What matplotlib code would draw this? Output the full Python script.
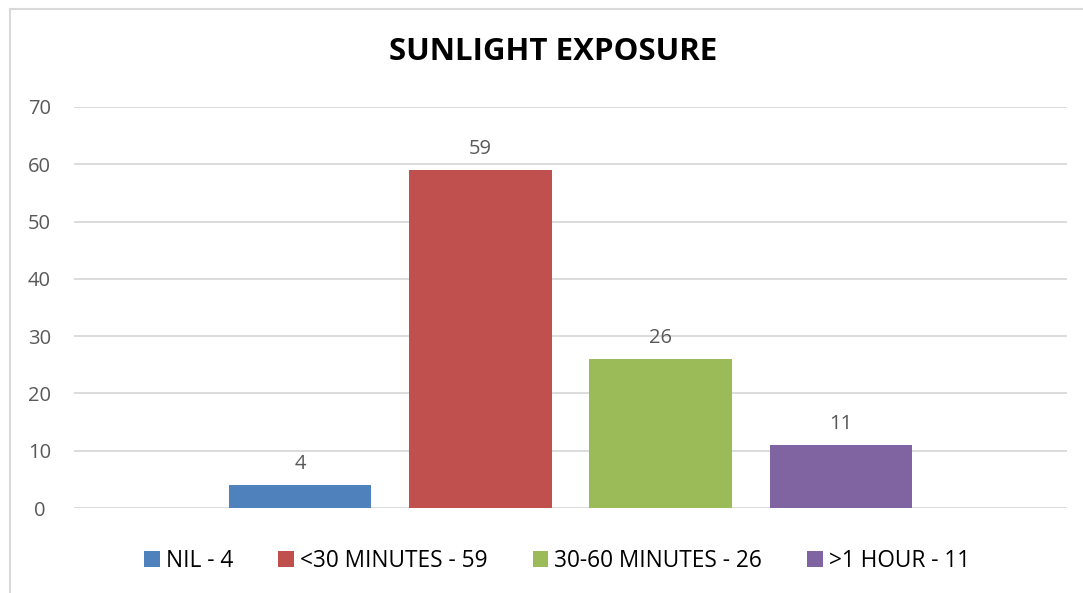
import matplotlib
matplotlib.use("Agg")
import matplotlib.pyplot as plt
from matplotlib.lines import Line2D

labels = ["NIL - 4", "<30 MINUTES - 59", "30-60 MINUTES - 26", ">1 HOUR - 11"]
values = [4, 59, 26, 11]
colors = ["#4F81BD", "#C0504D", "#9BBB59", "#8064A2"]
yticks = [0, 10, 20, 30, 40, 50, 60, 70]

plt.rcParams['font.family'] = ['Open Sans', 'DejaVu Sans']
txt = "#595959"

fig = plt.figure(figsize=(10.83, 5.93), dpi=100)
W, H = 1083, 593
ax = fig.add_axes([74 / W, 1 - 508 / H, (1067 - 74) / W, (508 - 107) / H])

xs = range(len(values))
for x, v, c, lab in zip(xs, values, colors, labels):
    ax.bar(x, v, width=0.79, color=c, label=lab, zorder=3)
    ax.text(x, v + 1.9, str(v), ha='center', va='bottom', fontsize=14.5, color=txt)

ax.set_xlim(-1.256, 4.256)
ax.set_ylim(0, 70)
ax.set_yticks(yticks)
ax.set_xticks([])
ax.grid(axis='y', color='#D9D9D9', linewidth=1.3, zorder=0)
for s in ax.spines.values():
    s.set_visible(False)
ax.tick_params(axis='y', length=0, pad=25, labelsize=14.5, labelcolor=txt)
for lbl in ax.get_yticklabels():
    lbl.set_horizontalalignment('center')

fig.text(553 / W, 1 - 52 / H, "SUNLIGHT EXPOSURE", ha='center', va='center',
         fontsize=22.5, fontweight='bold', color='black')

leg = fig.legend(loc='center', bbox_to_anchor=(557 / W, 1 - 561 / H), ncol=4,
                 frameon=False, fontsize=16.3, handlelength=0.7, handleheight=0.7,
                 handletextpad=0.25, columnspacing=2.0)
for t in leg.get_texts():
    t.set_color('black')

# outer chart border (top and left visible)
fig.add_artist(Line2D([10 / W, 10 / W], [1 - 9 / H, 0], transform=fig.transFigure,
                      color='#D9D9D9', linewidth=1.5))
fig.add_artist(Line2D([10 / W, 1], [1 - 9 / H, 1 - 9 / H], transform=fig.transFigure,
                      color='#D9D9D9', linewidth=1.5))

fig.savefig("out.png", dpi=100)
